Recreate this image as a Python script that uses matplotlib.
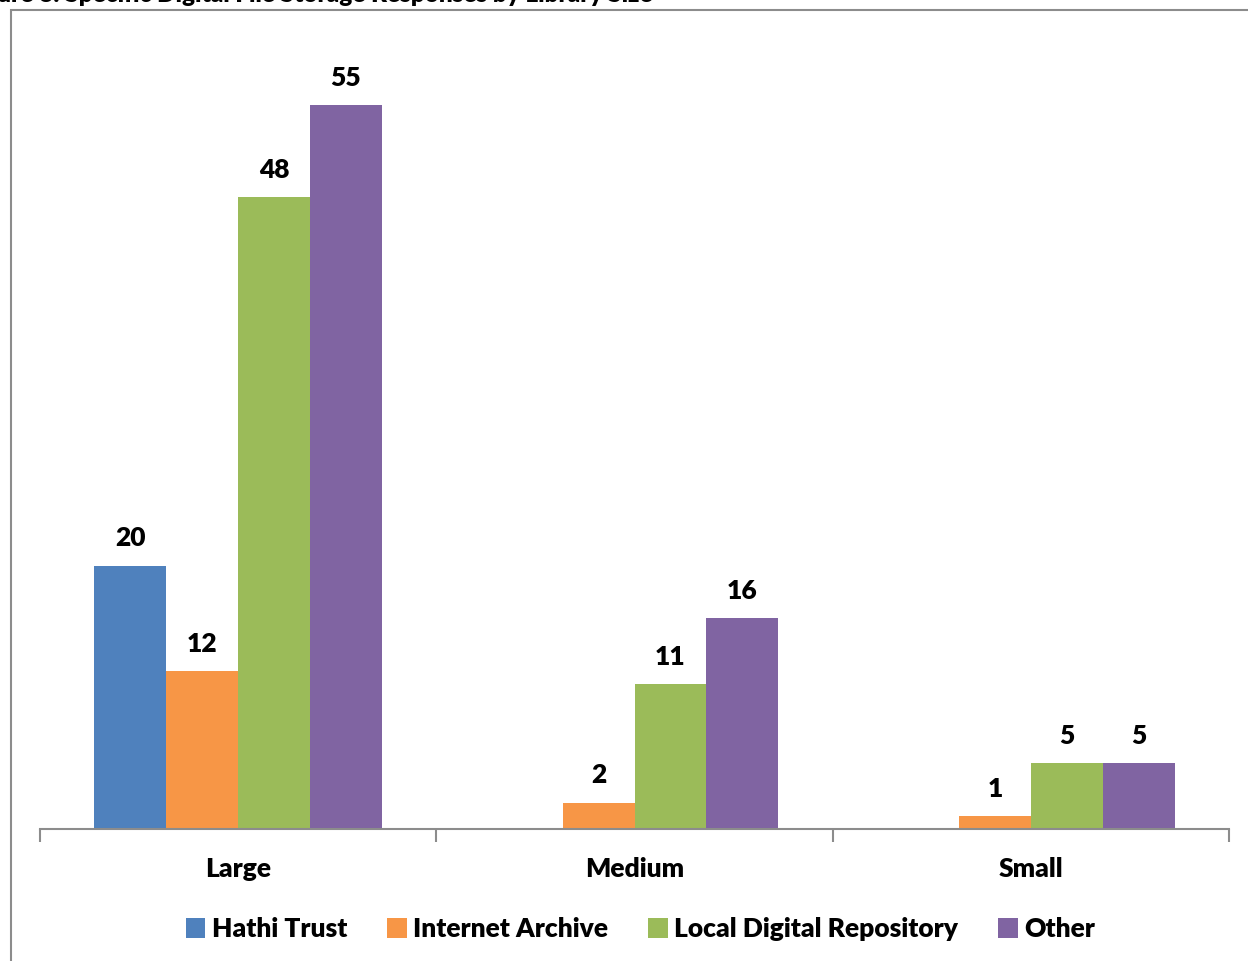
import matplotlib.pyplot as plt
import matplotlib.patches as mpatches
import numpy as np

sizes = ['Large', 'Medium', 'Small']
series = ['Hathi Trust', 'Internet Archive', 'Local Digital Repository', 'Other']
hathi = [20, 0, 0]
internet_archive = [12, 2, 1]
local_repo = [48, 11, 5]
other = [55, 16, 5]
colors = ['#4F81BD', '#F79646', '#9BBB59', '#8064A2']

plt.rcParams['font.family'] = ['Lato', 'DejaVu Sans']
wt = 'heavy'

W, H = 1248, 961
fig = plt.figure(figsize=(W / 100, H / 100), dpi=100)

# cut-off title and outer frame
fig.text(652 / W, 1 - 1.5 / H, 'Figure 8: Specific Digital File Storage Responses by Library Size',
         ha='right', va='baseline', fontsize=17.5, fontweight=wt)
fig.patches.append(mpatches.Rectangle((11 / W, -0.05), 1.1, 1 - 10 / H + 0.05,
                                      transform=fig.transFigure, fill=False,
                                      edgecolor='#8C8C8C', linewidth=1.5))

ax = fig.add_axes([40 / W, 1 - 829 / H, (1229 - 40) / W, (829 - 39) / H])
x = np.arange(len(sizes))
w = 72 / 397
data = [hathi, internet_archive, local_repo, other]
for i, (vals, name, c) in enumerate(zip(data, series, colors)):
    bars = ax.bar(x + (i - 1.5) * w, vals, width=w, color=c, label=name)
    for b, v in zip(bars, vals):
        if v > 0:
            ax.annotate(str(v), (b.get_x() + b.get_width() / 2, v),
                        xytext=(0, 11), textcoords='offset points',
                        ha='center', va='bottom', fontsize=19, fontweight=wt)

ax.set_xlim(-0.5, 2.5)
ax.set_ylim(0, 60)
ax.set_yticks([])
for s in ['left', 'right', 'top']:
    ax.spines[s].set_visible(False)
ax.spines['bottom'].set_color('#8C8C8C')
ax.spines['bottom'].set_linewidth(1.5)
ax.set_xticks([-0.5, 0.5, 1.5, 2.5])
ax.set_xticklabels([])
ax.tick_params(axis='x', which='major', length=9, width=1.5, color='#8C8C8C')
ax.set_xticks(x, minor=True)
ax.set_xticklabels(sizes, minor=True, fontsize=19, fontweight=wt)
ax.tick_params(axis='x', which='minor', length=0, pad=20)

ax.legend(loc='center', bbox_to_anchor=(0.505, -0.127), ncol=4, frameon=False,
          prop={'size': 19, 'weight': wt}, handlelength=0.75, handleheight=0.75,
          handletextpad=0.25, columnspacing=1.5)

fig.savefig('out.png', dpi=100)
